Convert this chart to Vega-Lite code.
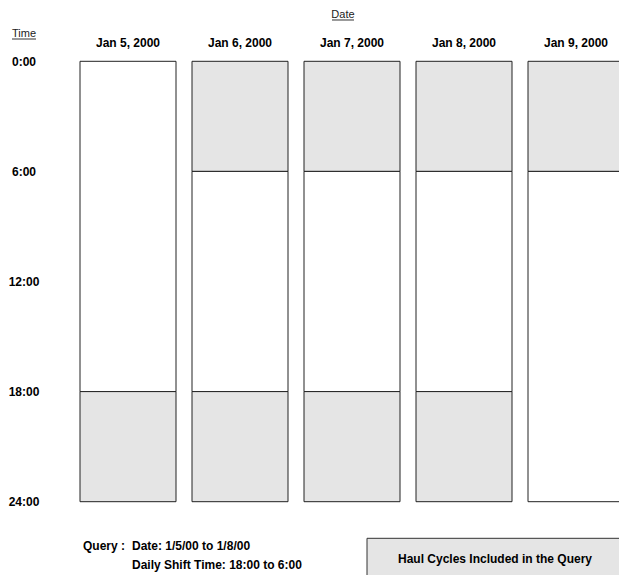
{
  "$schema": "https://vega.github.io/schema/vega-lite/v6.json",
  "width": 619,
  "height": 575,
  "autosize": "none",
  "padding": 0,
  "background": "white",
  "config": {"view": {"stroke": null}, "text": {"font": "Liberation Sans", "color": "#000"}},
  "datasets": {
    "segments": [
      {"day": 5, "start": 0, "end": 18, "included": "no"},
      {"day": 5, "start": 18, "end": 24, "included": "yes"},
      {"day": 6, "start": 0, "end": 6, "included": "yes"},
      {"day": 6, "start": 6, "end": 18, "included": "no"},
      {"day": 6, "start": 18, "end": 24, "included": "yes"},
      {"day": 7, "start": 0, "end": 6, "included": "yes"},
      {"day": 7, "start": 6, "end": 18, "included": "no"},
      {"day": 7, "start": 18, "end": 24, "included": "yes"},
      {"day": 8, "start": 0, "end": 6, "included": "yes"},
      {"day": 8, "start": 6, "end": 18, "included": "no"},
      {"day": 8, "start": 18, "end": 24, "included": "yes"},
      {"day": 9, "start": 0, "end": 6, "included": "yes"},
      {"day": 9, "start": 6, "end": 24, "included": "no"}
    ],
    "dates": [
      {"day": 5, "label": "Jan 5, 2000"},
      {"day": 6, "label": "Jan 6, 2000"},
      {"day": 7, "label": "Jan 7, 2000"},
      {"day": 8, "label": "Jan 8, 2000"},
      {"day": 9, "label": "Jan 9, 2000"}
    ],
    "times": [
      {"hour": 0, "label": "0:00"},
      {"hour": 6, "label": "6:00"},
      {"hour": 12, "label": "12:00"},
      {"hour": 18, "label": "18:00"},
      {"hour": 24, "label": "24:00"}
    ]
  },
  "layer": [
    {
      "data": {"name": "segments"},
      "mark": {"type": "bar", "width": 96, "stroke": "#222", "strokeWidth": 1},
      "encoding": {
        "x": {"field": "day", "type": "quantitative", "scale": {"domain": [3.8571, 9.3839], "nice": false, "zero": false, "padding": 0}, "axis": null},
        "y": {"field": "start", "type": "quantitative", "scale": {"domain": [-3.3406, 27.995], "nice": false, "zero": false, "padding": 0, "reverse": true}, "axis": null},
        "y2": {"field": "end"},
        "color": {"field": "included", "type": "nominal", "scale": {"domain": ["no", "yes"], "range": ["#ffffff", "#e5e5e5"]}, "legend": null}
      }
    },
    {
      "data": {"name": "dates"},
      "mark": {"type": "text", "fontSize": 12, "fontWeight": "bold", "align": "center", "baseline": "alphabetic"},
      "encoding": {
        "x": {"field": "day", "type": "quantitative"},
        "y": {"datum": -0.8065, "type": "quantitative"},
        "text": {"field": "label"}
      }
    },
    {
      "data": {"name": "times"},
      "mark": {"type": "text", "fontSize": 12, "fontWeight": "bold", "align": "center", "baseline": "alphabetic", "dy": 4.5},
      "encoding": {
        "x": {"datum": 4.0714, "type": "quantitative"},
        "y": {"field": "hour", "type": "quantitative"},
        "text": {"field": "label"}
      }
    },
    {
      "data": {"values": [{}]},
      "mark": {"type": "text", "text": "Date", "fontSize": 11, "align": "center", "baseline": "alphabetic", "color": "#222"},
      "encoding": {"x": {"datum": 6.9196, "type": "quantitative"}, "y": {"datum": -2.36, "type": "quantitative"}}
    },
    {
      "data": {"values": [{}]},
      "mark": {"type": "rule", "color": "#333", "strokeWidth": 1},
      "encoding": {"x": {"datum": 6.8214, "type": "quantitative"}, "x2": {"datum": 7.0179}, "y": {"datum": -2.2507, "type": "quantitative"}}
    },
    {
      "data": {"values": [{}]},
      "mark": {"type": "text", "text": "Time", "fontSize": 11, "align": "center", "baseline": "alphabetic", "color": "#222"},
      "encoding": {"x": {"datum": 4.0714, "type": "quantitative"}, "y": {"datum": -1.308, "type": "quantitative"}}
    },
    {
      "data": {"values": [{}]},
      "mark": {"type": "rule", "color": "#333", "strokeWidth": 1},
      "encoding": {"x": {"datum": 3.9643, "type": "quantitative"}, "x2": {"datum": 4.1786}, "y": {"datum": -1.215, "type": "quantitative"}}
    },
    {
      "data": {"values": [{}]},
      "mark": {"type": "text", "text": "Query :", "fontSize": 12, "fontWeight": "bold", "align": "left", "baseline": "alphabetic"},
      "encoding": {"x": {"datum": 4.5982, "type": "quantitative"}, "y": {"datum": 26.632, "type": "quantitative"}}
    },
    {
      "data": {"values": [{}]},
      "mark": {"type": "text", "text": "Date: 1/5/00 to 1/8/00", "fontSize": 12, "fontWeight": "bold", "align": "left", "baseline": "alphabetic"},
      "encoding": {"x": {"datum": 5.0357, "type": "quantitative"}, "y": {"datum": 26.632, "type": "quantitative"}}
    },
    {
      "data": {"values": [{}]},
      "mark": {"type": "text", "text": "Daily Shift Time: 18:00 to 6:00", "fontSize": 12, "fontWeight": "bold", "align": "left", "baseline": "alphabetic"},
      "encoding": {"x": {"datum": 5.0357, "type": "quantitative"}, "y": {"datum": 27.684, "type": "quantitative"}}
    },
    {
      "data": {"values": [{}]},
      "mark": {"type": "rect", "fill": "#e5e5e5", "stroke": "#333", "strokeWidth": 1},
      "encoding": {"x": {"datum": 7.1339, "type": "quantitative"}, "x2": {"datum": 9.4196}, "y": {"datum": 25.995, "type": "quantitative"}, "y2": {"datum": 28.16}}
    },
    {
      "data": {"values": [{}]},
      "mark": {"type": "text", "text": "Haul Cycles Included in the Query", "fontSize": 12, "fontWeight": "bold", "align": "center", "baseline": "alphabetic"},
      "encoding": {"x": {"datum": 8.2768, "type": "quantitative"}, "y": {"datum": 27.324, "type": "quantitative"}}
    }
  ]
}
